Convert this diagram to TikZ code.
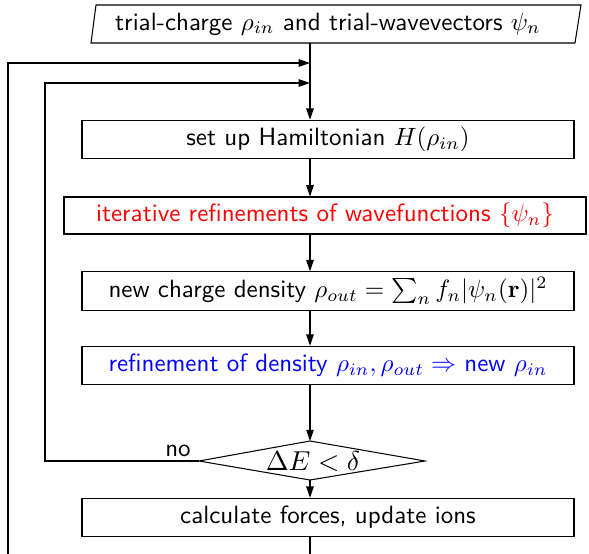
\documentclass[tikz,border=0pt]{standalone}
\usetikzlibrary{arrows.meta}
\begin{document}
\begin{tikzpicture}[x=0.4pt,y=-0.4pt,font=\sffamily,line width=0.42pt,
  stepbox/.style={draw,rectangle,minimum width=196.8pt,minimum height=15.4pt,inner sep=0pt},
  flow/.style={-{Triangle[length=4.5pt,width=3pt]}}]
\useasboundingbox (0,0) rectangle (589,554);

% input parallelogram
\coordinate (p1) at (96,5);
\coordinate (p2) at (581,5);
\coordinate (p3) at (575,43);
\coordinate (p4) at (91,43);
\draw (p1) -- (p2) -- (p3) -- (p4) -- cycle;
\node (start) at (328,24) {trial-charge $\rho_{in}$ and trial-wavevectors $\psi_n$};
\coordinate (startout) at (310,43);

% processing steps
\node[stepbox] (ham) at (328,139.5) {set up Hamiltonian $H(\rho_{in})$};
\node[stepbox,minimum width=208.8pt,minimum height=14.8pt,text=red] (wave) at (325,215.5)
  {iterative refinements of wavefunctions $\{\psi_n\}$};
\node[stepbox] (dens) at (328,291) {new charge density $\rho_{out}=\sum_n f_n|\psi_n(\mathbf{r})|^2$};
\node[stepbox,text=blue] (mix) at (328,365.5) {refinement of density $\rho_{in},\rho_{out}\Rightarrow$ new $\rho_{in}$};
\node[stepbox] (ions) at (328,517.5) {calculate forces, update ions};

% convergence test
\coordinate (dt) at (310,441);
\coordinate (dr) at (425,461);
\coordinate (db) at (310,480);
\coordinate (dl) at (199,461);
\draw (dt) -- (dr) -- (db) -- (dl) -- cycle;
\node (test) at (313,462) {\fontsize{10.5}{12}\selectfont $\Delta E<\delta$};
\node[anchor=base] (no) at (178,456) {no};

% junctions on the main line
\coordinate (j1) at (310,63);
\coordinate (j2) at (310,83);
\coordinate (outer) at (8,554);
\coordinate (tail) at (310,554);

% main flow
\draw[flow] (startout) -- (ham.north -| startout);
\draw[flow] (ham.south -| startout) -- (wave.north -| startout);
\draw[flow] (wave.south -| startout) -- (dens.north -| startout);
\draw[flow] (dens.south -| startout) -- (mix.north -| startout);
\draw[flow] (mix.south -| startout) -- (dt);
\draw[flow] (db) -- (ions.north -| startout);
\draw (ions.south -| startout) -- (tail);

% feedback loops
\draw[flow] (dl) -- (45,461) -- (45,83) -- (j2);
\draw[flow] (outer) -- (8,63) -- (j1);
\end{tikzpicture}
\end{document}
